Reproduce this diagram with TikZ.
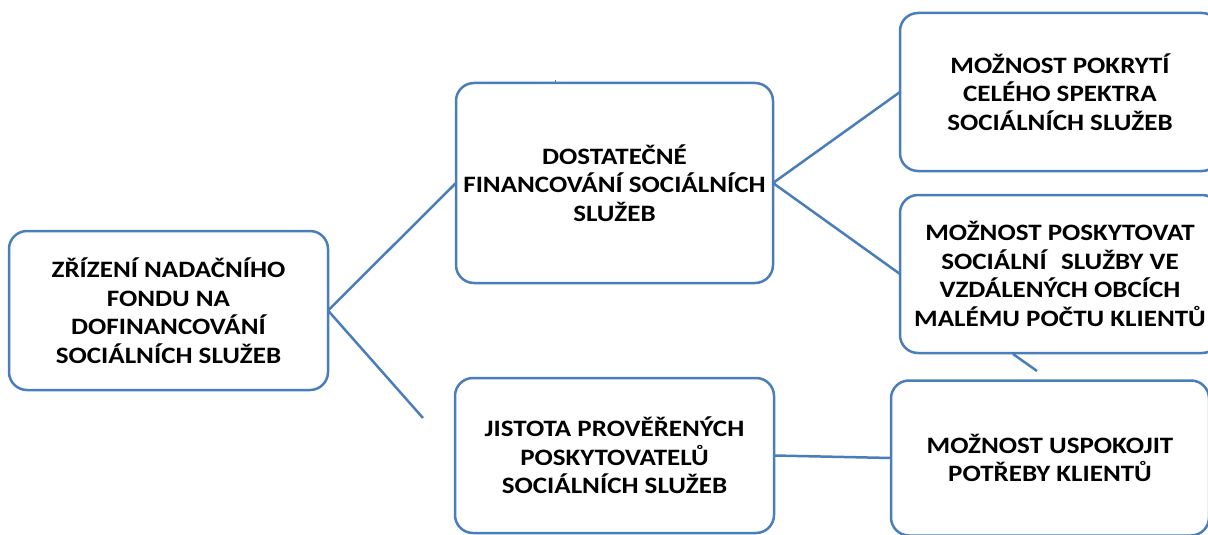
\documentclass[tikz,border=0pt]{standalone}
\usepackage{fontspec}
\setmainfont{Carlito}[FakeStretch=1.15]
\definecolor{boxblue}{RGB}{74,126,187}
\begin{document}
\begin{tikzpicture}[x=1pt,y=-1pt,
  every node/.style={inner sep=0pt,outer sep=0pt},
  bx/.style={draw=boxblue,line width=2.5pt,rounded corners=18pt,fill=white,
    align=center,font=\fontsize{23.5}{28.5}\selectfont\bfseries},
  conn/.style={draw=boxblue,line width=2.5pt}]
\useasboundingbox (0,0) rectangle (1208,535);
\node[bx,minimum width=319pt,minimum height=159pt] (root) at (168.5,310.5)
  {ZŘÍZENÍ NADAČNÍHO\\FONDU NA\\DOFINANCOVÁNÍ\\SOCIÁLNÍCH SLUŽEB};
\node[bx,minimum width=317pt,minimum height=200pt] (dost) at (614.5,183)
  {DOSTATEČNÉ\\FINANCOVÁNÍ SOCIÁLNÍCH\\SLUŽEB};
\node[bx,minimum width=319pt,minimum height=155pt] (jist) at (614.5,455.5)
  {JISTOTA PROVĚŘENÝCH\\POSKYTOVATELŮ\\SOCIÁLNÍCH SLUŽEB};
\node[bx,minimum width=320pt,minimum height=158pt] (pokr) at (1060,92)
  {MOŽNOST POKRYTÍ\\CELÉHO SPEKTRA\\SOCIÁLNÍCH SLUŽEB};
\node[bx,minimum width=320pt,minimum height=158pt] (posk) at (1060,274)
  {MOŽNOST POSKYTOVAT\\SOCIÁLNÍ\hspace{0.35em} SLUŽBY VE\\VZDÁLENÝCH OBCÍCH\\MALÉMU POČTU KLIENTŮ};
\node[bx,minimum width=318pt,minimum height=155pt] (uspo) at (1050,458)
  {MOŽNOST USPOKOJIT\\POTŘEBY KLIENTŮ};
\coordinate (freeA) at (423,418);
\coordinate (segA) at (1013,354);
\coordinate (segB) at (1037,371);
\coordinate (tickA) at (555,80);
\coordinate (tickB) at (555,83);
\draw[conn] (root.east) -- (dost.west);
\draw[conn] (root.east) -- (freeA);
\draw[conn] (dost.east) -- (pokr.west);
\draw[conn] (dost.east) -- (posk.west);
\draw[conn] (jist.east) -- (uspo.west);
\draw[conn] (segA) -- (segB);
\draw[draw=boxblue,line width=1pt] (tickA) -- (tickB);
\end{tikzpicture}
\end{document}
